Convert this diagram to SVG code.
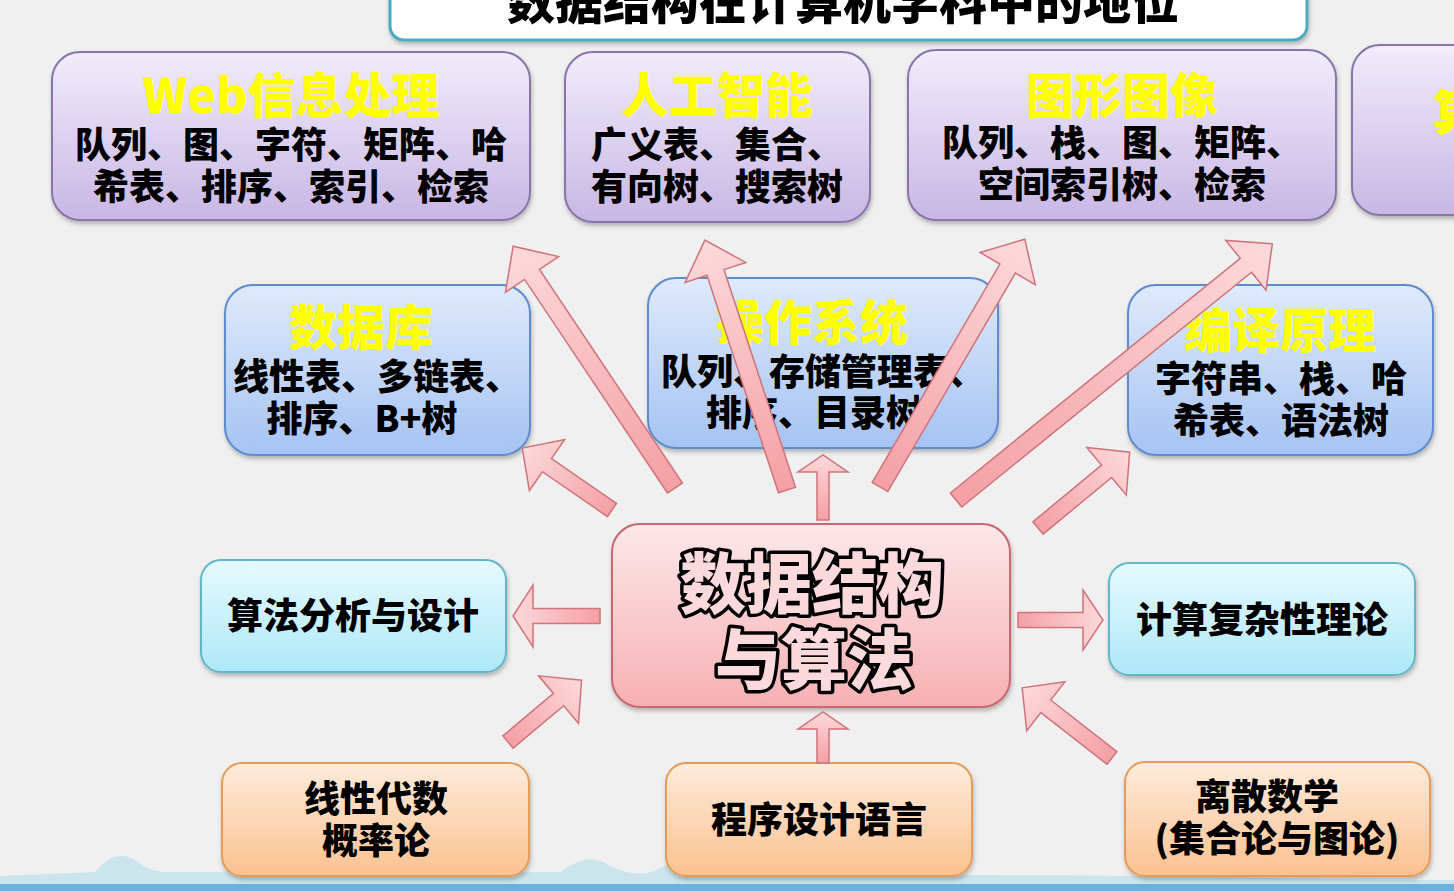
<svg xmlns="http://www.w3.org/2000/svg" width="1454" height="891" viewBox="0 0 1454 891">
<style>
.t{font-family:"Noto Sans CJK SC","Noto Sans",sans-serif;font-weight:900;text-anchor:middle;dominant-baseline:central}
.ttl{font-size:48px;fill:#ffff00}
.body{font-size:36px;fill:#000}
.big{font-size:66px;font-weight:900;fill:#fcd9db;stroke:#000;stroke-width:7px;paint-order:stroke;stroke-linejoin:round}
.pur{fill:url(#gPur);stroke:#8a74aa;stroke-width:2}
.blu{fill:url(#gBlu);stroke:#5f8ccc;stroke-width:2}
.cya{fill:url(#gCya);stroke:#62b6cc;stroke-width:2}
.ora{fill:url(#gOra);stroke:#e59c5a;stroke-width:2}
.pnk{fill:url(#gPnk);stroke:#c9686e;stroke-width:2}
.arr{fill:url(#gArr);stroke:#d0737a;stroke-width:1.5;stroke-linejoin:miter}
</style>
<defs>
<linearGradient id="gPur" x1="0" y1="0" x2="0" y2="1"><stop offset="0" stop-color="#f2ecfb"/><stop offset="1" stop-color="#c8b7e5"/></linearGradient>
<linearGradient id="gBlu" x1="0" y1="0" x2="0" y2="1"><stop offset="0" stop-color="#dfeafb"/><stop offset="1" stop-color="#a6c3f3"/></linearGradient>
<linearGradient id="gCya" x1="0" y1="0" x2="0" y2="1"><stop offset="0" stop-color="#e6fafe"/><stop offset="1" stop-color="#aee8f8"/></linearGradient>
<linearGradient id="gOra" x1="0" y1="0" x2="0" y2="1"><stop offset="0" stop-color="#feecdc"/><stop offset="1" stop-color="#fbc190"/></linearGradient>
<linearGradient id="gPnk" x1="0" y1="0" x2="0" y2="1"><stop offset="0" stop-color="#fde8e9"/><stop offset="1" stop-color="#f7b0b3"/></linearGradient>
<linearGradient id="gArr" x1="0" y1="0" x2="1" y2="0"><stop offset="0" stop-color="#f4a0a5"/><stop offset="1" stop-color="#fdd9db"/></linearGradient>
<filter id="sh" x="-10%" y="-10%" width="120%" height="130%"><feDropShadow dx="1" dy="3" stdDeviation="2" flood-color="#000" flood-opacity="0.25"/></filter>
</defs>
<rect width="1454" height="891" fill="#f0f0f0"/>
<g id="decoration">
<path d="M0,876 L95,872 Q115,848 135,860 Q150,872 165,872 L225,872 Q245,846 262,860 Q275,876 292,872 Q315,848 340,862 Q370,872 420,872 L560,872 Q590,850 610,866 Q640,880 660,868 Q700,850 730,860 Q760,872 800,874 L1150,876 L1380,880 L1454,880 L1454,891 L0,891 Z" fill="#c3e2ec" opacity="0.8"/>
<rect x="0" y="884" width="1454" height="7" fill="#6cb0de"/>
</g>
<g id="title" filter="url(#sh)">
<rect x="390" y="-30" width="917" height="70" rx="14" fill="#fff" stroke="#4ca9c1" stroke-width="3"/>
<text class="t" x="843" y="-2" font-size="48" fill="#000">数据结构在计算机学科中的地位</text>
</g>
<g id="web">
<rect class="pur" x="52" y="52" width="478" height="168" rx="28" filter="url(#sh)"/>
<text class="t ttl" x="291" y="92">Web信息处理</text>
<text class="t body" x="291" y="142">队列、图、字符、矩阵、哈</text>
<text class="t body" x="291" y="184">希表、排序、索引、检索</text>
</g>
<g id="ai">
<rect class="pur" x="565" y="52" width="305" height="170" rx="28" filter="url(#sh)"/>
<text class="t ttl" x="717" y="92">人工智能</text>
<text class="t body" x="717" y="142">广义表、集合、</text>
<text class="t body" x="717" y="184">有向树、搜索树</text>
</g>
<g id="graphics">
<rect class="pur" x="908" y="50" width="428" height="170" rx="28" filter="url(#sh)"/>
<text class="t ttl" x="1122" y="92">图形图像</text>
<text class="t body" x="1122" y="140">队列、栈、图、矩阵、</text>
<text class="t body" x="1122" y="182">空间索引树、检索</text>
</g>
<g id="partial">
<rect class="pur" x="1352" y="45" width="140" height="170" rx="28" filter="url(#sh)"/>
<text class="t ttl" x="1433" y="109" style="text-anchor:start">算</text>
</g>
<g id="database">
<rect class="blu" x="225" y="285" width="305" height="170" rx="28" filter="url(#sh)"/>
<text class="t ttl" x="361" y="324">数据库</text>
<text class="t body" x="377" y="374">线性表、多链表、</text>
<text class="t body" x="362" y="416">排序、B+树</text>
</g>
<g id="os">
<rect class="blu" x="648" y="278" width="350" height="170" rx="28" filter="url(#sh)"/>
<text class="t ttl" x="812" y="319">操作系统</text>
<text class="t body" x="823" y="369">队列、存储管理表、</text>
<text class="t body" x="814" y="410">排序、目录树</text>
</g>
<g id="compiler">
<rect class="blu" x="1128" y="285" width="305" height="170" rx="28" filter="url(#sh)"/>
<text class="t ttl" x="1280" y="327">编译原理</text>
<text class="t body" x="1281" y="376">字符串、栈、哈</text>
<text class="t body" x="1281" y="418">希表、语法树</text>
</g>
<g id="algo-design">
<rect class="cya" x="201" y="560" width="305" height="112" rx="20" filter="url(#sh)"/>
<text class="t body" x="353" y="613">算法分析与设计</text>
</g>
<g id="complexity">
<rect class="cya" x="1109" y="563" width="306" height="112" rx="20" filter="url(#sh)"/>
<text class="t body" x="1262" y="617">计算复杂性理论</text>
</g>
<g id="linear">
<rect class="ora" x="222" y="763" width="307" height="113" rx="20" filter="url(#sh)"/>
<text class="t body" x="376" y="796">线性代数</text>
<text class="t body" x="376" y="838">概率论</text>
</g>
<g id="programming">
<rect class="ora" x="666" y="763" width="306" height="113" rx="20" filter="url(#sh)"/>
<text class="t body" x="819" y="817">程序设计语言</text>
</g>
<g id="discrete">
<rect class="ora" x="1125" y="762" width="305" height="114" rx="20" filter="url(#sh)"/>
<text class="t body" x="1267" y="794">离散数学</text>
<text class="t body" x="1277" y="836">(集合论与图论)</text>
</g>
<g id="center">
<rect class="pnk" x="612" y="524" width="398" height="183" rx="28" filter="url(#sh)"/>
<text class="t big" x="812" y="579">数据结构</text>
<text class="t big" x="814" y="655">与算法</text>
</g>
<g id="connectors">
<path class="arr" transform="translate(675,488) rotate(-123.8)" d="M0,-9 L257,-9 L257,-32 L291,0 L257,32 L257,9 L0,9 Z"/>
<path class="arr" transform="translate(787,490) rotate(-108.2)" d="M0,-9 L229,-9 L229,-32 L263,0 L229,32 L229,9 L0,9 Z"/>
<path class="arr" transform="translate(880,487) rotate(-59.7)" d="M0,-9 L253,-9 L253,-32 L287,0 L253,32 L253,9 L0,9 Z"/>
<path class="arr" transform="translate(956,500) rotate(-39)" d="M0,-9 L373,-9 L373,-32 L407,0 L373,32 L373,9 L0,9 Z"/>
<path class="arr" transform="translate(612,510) rotate(-145.4)" d="M0,-8 L79,-8 L79,-31 L109,0 L79,31 L79,8 L0,8 Z"/>
<path class="arr" transform="translate(1038,528) rotate(-39.6)" d="M0,-8 L89,-8 L89,-31 L119,0 L89,31 L89,8 L0,8 Z"/>
<path class="arr" transform="translate(508,742) rotate(-40)" d="M0,-8 L66,-8 L66,-31 L96,0 L66,31 L66,8 L0,8 Z"/>
<path class="arr" transform="translate(1112,758) rotate(-142)" d="M0,-8 L84,-8 L84,-31 L114,0 L84,31 L84,8 L0,8 Z"/>
<path class="arr" transform="translate(600,616) rotate(180)" d="M0,-7.5 L67,-7.5 L67,-31 L87,0 L67,31 L67,7.5 L0,7.5 Z"/>
<path class="arr" transform="translate(1018,620)" d="M0,-7.5 L65,-7.5 L65,-30 L85,0 L65,30 L65,7.5 L0,7.5 Z"/>
<path class="arr" transform="translate(823,520) rotate(-90)" d="M0,-6 L48,-6 L48,-25 L65,0 L48,25 L48,6 L0,6 Z"/>
<path class="arr" transform="translate(823,763) rotate(-90)" d="M0,-6 L34,-6 L34,-25 L51,0 L34,25 L34,6 L0,6 Z"/>
</g>
</svg>
